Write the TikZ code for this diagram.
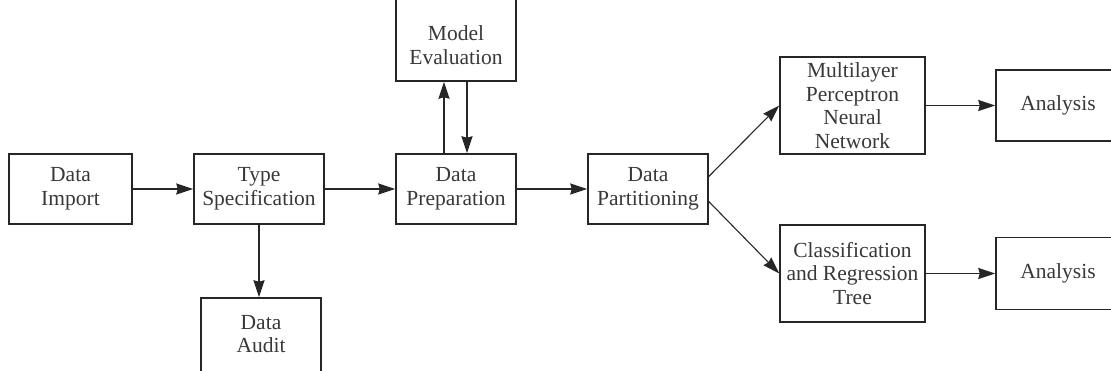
\documentclass[tikz,border=0pt]{standalone}
\usepackage{fontspec}
\setmainfont{Liberation Serif}
\usetikzlibrary{arrows.meta}
\tikzset{
  box/.style={draw=black!85, line width=1.5pt, rectangle, inner sep=0pt,
    align=center, text=black!78, font=\fontsize{21.5}{23.5}\selectfont},
  label text/.style={inner sep=0pt, align=center, text=black!78,
    font=\fontsize{21.5}{23.5}\selectfont},
  flow/.style={draw=black!85, line width=1.5pt,
    -{Stealth[length=17pt,width=11pt,inset=1.5pt]}},
  thin flow/.style={flow, line width=1.1pt}
}
\begin{document}
\begin{tikzpicture}[x=1pt,y=-1pt]
  \useasboundingbox (0,0) rectangle (1111,371);
  \clip (0,0) rectangle (1111,371);
  % process boxes
  \node[box, minimum width=123pt, minimum height=70pt] (imp) at (70.5,189) {Data\\Import};
  \node[box, minimum width=130pt, minimum height=70pt] (typ) at (259,189) {Type\\Specification};
  \node[box, minimum width=120pt, minimum height=80pt] (aud) at (261,338) {};
  \node[label text, yshift=4pt] at (aud) {Data\\Audit};
  \node[box, minimum width=120pt, minimum height=70pt] (prep) at (456,189) {Data\\Preparation};
  \node[box, minimum width=120pt, minimum height=88pt] (eval) at (456,37) {};
  \node[label text, yshift=-8pt] at (eval) {Model\\Evaluation};
  \node[box, minimum width=120pt, minimum height=70pt] (part) at (648,189) {Data\\Partitioning};
  \node[box, minimum width=145pt, minimum height=97pt] (mlp) at (852.5,105.5) {Multilayer\\Perceptron\\Neural\\Network};
  \node[box, minimum width=145pt, minimum height=97pt] (cart) at (852.5,273.5) {Classification\\and Regression\\Tree};
  \node[box, minimum width=124pt, minimum height=71pt] (an1) at (1058,105.5) {Analysis};
  \node[box, minimum width=124pt, minimum height=72pt] (an2) at (1058,273.5) {Analysis};
  % connectors
  \draw[flow] (imp.east) -- (typ.west);
  \draw[flow] (typ.south) -- (typ.south |- aud.north);
  \draw[flow] (typ.east) -- (prep.west);
  \draw[flow] ([xshift=-12pt]prep.north) -- ([xshift=-12pt]eval.south);
  \draw[flow] ([xshift=11pt]eval.south) -- ([xshift=11pt]prep.north);
  \draw[flow] (prep.east) -- (part.west);
  \draw[thin flow] ([yshift=12.5pt]part.east) -- (mlp.west);
  \draw[thin flow] ([yshift=-12.5pt]part.east) -- (cart.west);
  \draw[flow] (mlp.east) -- (an1.west);
  \draw[flow] (cart.east) -- (an2.west);
\end{tikzpicture}
\end{document}
